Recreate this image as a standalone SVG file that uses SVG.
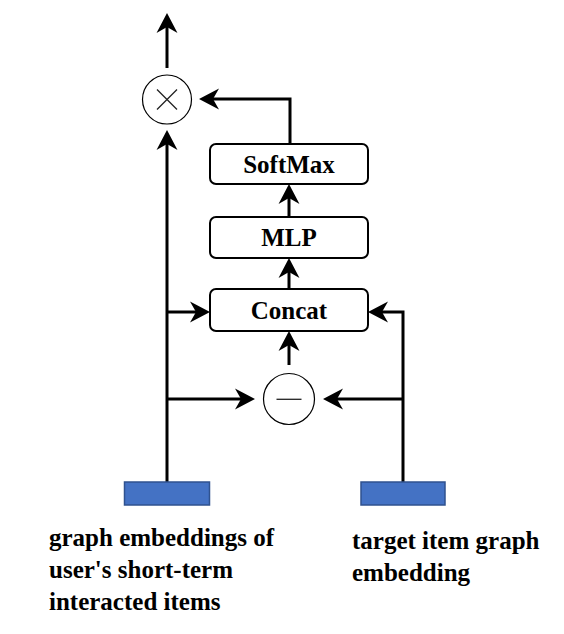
<svg xmlns="http://www.w3.org/2000/svg" width="564" height="634" viewBox="0 0 564 634">
<style>
.box{fill:#fff;stroke:#000;stroke-width:2}
.op{fill:#fff;stroke:#000;stroke-width:1.2}
.sym{stroke:#222;stroke-width:1.3;fill:none}
.emb{fill:#4472C4;stroke:#2F528F;stroke-width:1.5}
.lbl{font-family:"Liberation Serif","Times New Roman",serif;font-weight:bold;font-size:25px;fill:#000}
.c{text-anchor:middle}
.edge{fill:none;stroke:#000;stroke-width:3;marker-end:url(#ah)}
</style>
<defs>
<marker id="ah" markerUnits="userSpaceOnUse" markerWidth="24" markerHeight="24" viewBox="-21 -12 24 24" refX="-12" refY="0" orient="auto">
<path d="M0,0 L-20,-10.5 L-14,0 L-20,10.5 Z" fill="#000"/>
</marker>
</defs>
<rect width="564" height="634" fill="#fff"/>
<g id="connectors">
<path class="edge" d="M167,68 V25"/>
<path class="edge" d="M167,482 V142"/>
<path class="edge" d="M167,312 H198"/>
<path class="edge" d="M167,399 H243"/>
<path class="edge" d="M403,482 V312 H380"/>
<path class="edge" d="M403,399 H335"/>
<path class="edge" d="M289,365 V343"/>
<path class="edge" d="M289,289 V270"/>
<path class="edge" d="M289,217 V196"/>
<path class="edge" d="M290,144 V99 H211"/>
</g>
<g id="multiply">
<circle class="op" cx="167" cy="99.5" r="24.5"/>
<path class="sym" d="M157,89.5 L177,109.5 M177,89.5 L157,109.5"/>
</g>
<g id="softmax">
<rect class="box" x="210" y="144" width="158" height="40" rx="6"/>
<text class="lbl c" x="289" y="172.5">SoftMax</text>
</g>
<g id="mlp">
<rect class="box" x="210" y="217" width="158" height="41" rx="6"/>
<text class="lbl c" x="289" y="246">MLP</text>
</g>
<g id="concat">
<rect class="box" x="210" y="289" width="158" height="42" rx="6"/>
<text class="lbl c" x="289" y="318.5">Concat</text>
</g>
<g id="subtract">
<circle class="op" cx="289" cy="399" r="25.5"/>
<path class="sym" d="M276.5,399.3 H301.5"/>
</g>
<g id="user-emb">
<rect class="emb" x="124.5" y="482" width="85" height="23"/>
<text class="lbl" x="49">
<tspan x="49" y="546">graph embeddings of</tspan>
<tspan x="49" y="578">user's short-term</tspan>
<tspan x="49" y="610">interacted items</tspan>
</text>
</g>
<g id="target-emb">
<rect class="emb" x="361" y="482" width="84" height="23"/>
<text class="lbl" x="352">
<tspan x="352" y="549">target item graph</tspan>
<tspan x="352" y="581">embedding</tspan>
</text>
</g>
</svg>
